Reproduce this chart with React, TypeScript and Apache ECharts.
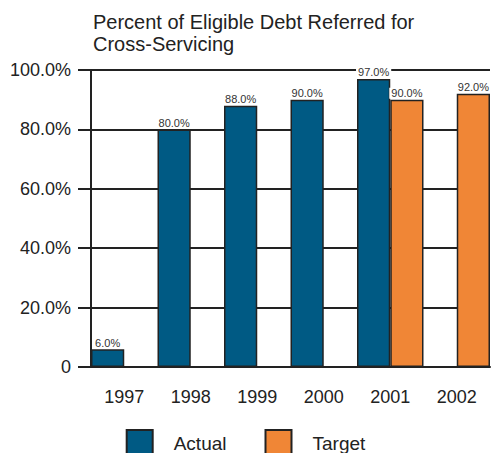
import React, { useEffect, useRef } from "react";
import * as echarts from "echarts";

const years = ["1997", "1998", "1999", "2000", "2001", "2002"];
const actual = [6.0, 80.0, 88.0, 90.0, 97.0, null];
const target = [null, null, null, null, 90.0, 92.0];
const yTicks = [0, 20, 40, 60, 80, 100];

const FONT = "'Liberation Sans', Arial, Helvetica, sans-serif";

export default function App() {
  const ref = useRef<HTMLDivElement>(null);
  useEffect(() => {
    if (!ref.current) return;
    const chart = echarts.init(ref.current, undefined, { renderer: "svg" });
    const label = {
      show: true,
      position: "top" as const,
      distance: 1,
      fontSize: 11,
      color: "#333",
      fontFamily: FONT,
      backgroundColor: "#fff",
      padding: [0, 2, 0, 2],
      formatter: (p: any) => (p.value == null ? "" : Number(p.value).toFixed(1) + "%"),
    };
    chart.setOption({
      animation: false,
      textStyle: { fontFamily: FONT },
      title: {
        text: "Percent of Eligible Debt Referred for\nCross-Servicing",
        left: 88,
        top: 6,
        textStyle: { fontSize: 20, lineHeight: 22, fontWeight: "normal", color: "#222", fontFamily: FONT },
      },
      legend: {
        top: 429,
        left: "center",
        padding: 0,
        icon: "rect",
        itemWidth: 26,
        itemHeight: 26,
        itemGap: 38,
        textStyle: { fontSize: 19, color: "#222", fontFamily: FONT, padding: [0, 0, 0, 16] },
        data: ["Actual", "Target"],
      },
      grid: { left: 91, right: 1, top: 70, bottom: 86, containLabel: false },
      xAxis: {
        type: "category",
        data: years,
        axisLine: { lineStyle: { color: "#222", width: 2 } },
        axisTick: { alignWithLabel: true, length: 10, lineStyle: { color: "#222", width: 2 } },
        axisLabel: { fontSize: 18, color: "#222", margin: 21, fontFamily: FONT },
      },
      yAxis: {
        type: "value",
        min: yTicks[0],
        max: yTicks[yTicks.length - 1],
        interval: 20,
        axisLine: { show: true, lineStyle: { color: "#222", width: 2 } },
        axisTick: { show: true, length: 13, lineStyle: { color: "#222", width: 2 } },
        splitLine: { show: true, lineStyle: { color: "#222", width: 2 } },
        axisLabel: {
          fontSize: 18,
          color: "#222",
          margin: 20,
          fontFamily: FONT,
          formatter: (v: number) => (v === 0 ? "0" : v.toFixed(1) + "%"),
        },
      },
      series: [
        {
          name: "Actual",
          type: "bar",
          data: actual,
          barGap: "0%",
          barCategoryGap: "0%",
          itemStyle: { color: "#005a84", borderColor: "#222", borderWidth: 1.5 },
          label,
        },
        {
          name: "Target",
          type: "bar",
          data: target,
          barGap: "0%",
          barCategoryGap: "0%",
          itemStyle: { color: "#f08636", borderColor: "#222", borderWidth: 1.5 },
          label,
        },
      ],
    });
    return () => chart.dispose();
  }, []);
  return <div ref={ref} style={{ width: 491, height: 453, position: "absolute", left: 0, top: 0 }} />;
}
